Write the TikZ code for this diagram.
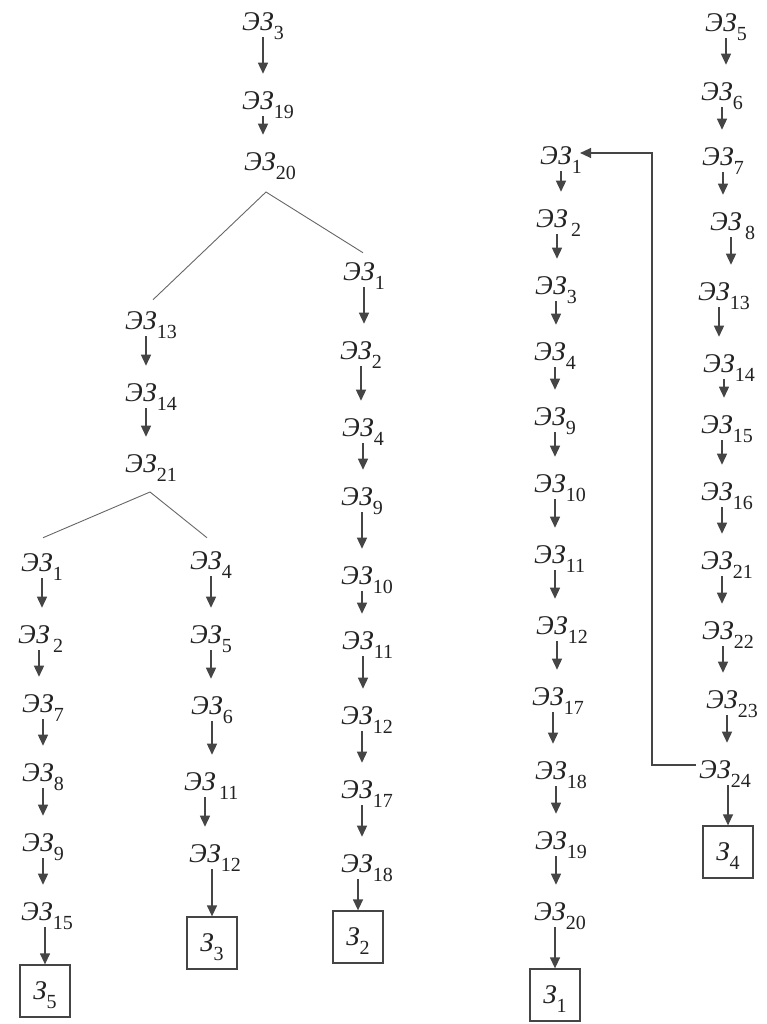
\documentclass[tikz,border=0pt]{standalone}
\usepackage{fontspec}
\setmainfont{Liberation Serif}
\usetikzlibrary{arrows.meta}

\definecolor{ink}{HTML}{222222}
\definecolor{linegray}{HTML}{454545}

% label "ЭЗ" with its index hanging below the right side
\newcommand{\ezlab}[1]{ЭЗ\rlap{\raisebox{-9pt}[0pt][0pt]{\fontsize{20}{20}\selectfont\upshape #1}}}
\newcommand{\zlab}[1]{З\raisebox{-9pt}[0pt][0pt]{\fontsize{20}{20}\selectfont\upshape #1}}

% one vertical chain of nodes: prefix, list of index/x/y
\newcommand{\ezchain}[2]{%
  \foreach \n/\x/\y [count=\i, remember=\i as \j (initially 0)] in {#2} {
    \node[ez] (#1\i) at (\x,\y) {\ezlab{\n}};
    \ifnum\i>1 \draw[flow] ([xshift=5pt]#1\j.south) -- ([xshift=5pt]#1\j.south |- #1\i.north); \fi
  }}

\tikzset{
  ez/.style={inner sep=0pt, text=ink, font=\itshape\fontsize{27}{30}\selectfont},
  goalbox/.style={draw=linegray, line width=1.3pt, minimum width=50pt, minimum height=52pt,
    inner sep=0pt, text=ink, font=\itshape\fontsize{27}{30}\selectfont},
  flow/.style={draw=linegray, line width=1.3pt, -{Triangle[length=11pt,width=10pt]},
    shorten <=6pt, shorten >=18pt},
  intobox/.style={flow, shorten >=0pt},
  branch/.style={draw=black!60, line width=0.9pt}
}

\begin{document}
\begin{tikzpicture}[x=1pt,y=-1pt]
  \useasboundingbox (0,0) rectangle (767,1024);

  % top chain and its first fork
  \ezchain{t}{3/258/22, 19/258/101, 20/260/162}
  \coordinate (forka) at (266,192);
  \ezchain{b}{13/141/321, 14/141/393, 21/141/464}
  \coordinate (forkb) at (150,492);

  % left tree: two leaves
  \ezchain{p}{1/37/563, {\,2}/34/635, 7/38/704, 8/38/773, 9/38/843, 15/37/912}
  \node[goalbox] (z5) at (45,991) {\zlab{5}};
  \ezchain{q}{4/206/561, 5/206/635, 6/207/706, {\,11}/200/782, 12/205/854}
  \node[goalbox] (z3) at (212,943) {\zlab{3}};

  % middle chain
  \ezchain{m}{1/359/272, 2/356/351, 4/358/428, 9/357/497, 10/357/576, 11/358/641,
    12/357/716, 17/357/790, 18/357/864}
  \node[goalbox] (z2) at (358,937) {\zlab{2}};

  % right chains
  \ezchain{r}{1/556/156, {\,2}/552/219, 3/551/286, 4/550/352, 9/550/417, 10/550/484,
    11/550/555, 12/552/626, 17/548/697, 18/551/771, 19/551/841, 20/550/912}
  \node[goalbox] (z1) at (555,995) {\zlab{1}};
  \ezchain{s}{5/721/23, 6/717/92, 7/718/157, {\,8}/726/222, 13/714/292, 14/719/364,
    15/717/425, 16/717/492, 21/717/561, 22/718/631, 23/722/700, 24/715/770}
  \node[goalbox] (z4) at (728,852) {\zlab{4}};
  \coordinate (back) at (652,0);

  % forks
  \draw[branch] ([xshift=12pt,yshift=12pt]b1.north) -- (forka) -- ([xshift=4pt,yshift=10pt]m1.north);
  \draw[branch] ([xshift=6pt,yshift=16pt]p1.north) -- (forkb) -- ([xshift=1pt,yshift=14pt]q1.north);

  % into the goals
  \draw[intobox] (z5.north |- p6.south) -- (z5.north);
  \draw[intobox] (z3.north |- q5.south) -- (z3.north);
  \draw[intobox] (z2.north |- m9.south) -- (z2.north);
  \draw[intobox] (z1.north |- r12.south) -- (z1.north);
  \draw[intobox] (z4.north |- s12.south) -- (z4.north);

  % loop back from the end of the last chain
  \draw[flow, shorten <=3pt, shorten >=0pt] ([yshift=5pt]s12.west) -- ([yshift=5pt]back |- s12.west)
    -- ([yshift=3pt]back |- r1.east) -- ([xshift=8pt,yshift=3pt]r1.east);
\end{tikzpicture}
\end{document}
